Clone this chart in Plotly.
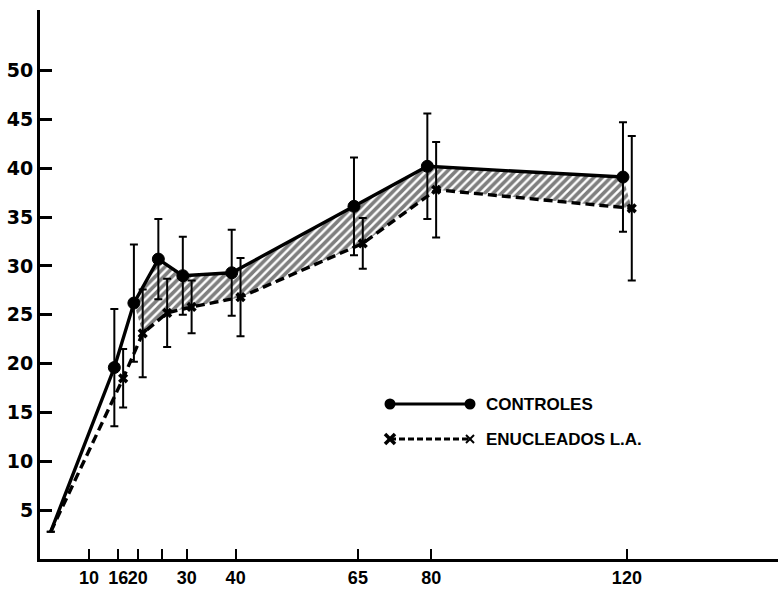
import plotly.graph_objects as go

# ---- data ----
ages = [16, 20, 25, 30, 40, 65, 80, 120]
start_age = 2.2
start_value = 2.8

controles = [19.6, 26.2, 30.7, 29.0, 29.3, 36.1, 40.2, 39.1]
controles_sd = [6.0, 6.0, 4.1, 4.0, 4.4, 5.0, 5.4, 5.6]

enucleados = [18.5, 23.1, 25.2, 25.8, 26.8, 32.3, 37.8, 35.9]
enucleados_sd = [3.0, 4.5, 3.5, 2.7, 4.0, 2.6, 4.9, 7.4]

x_tickvals = [10, 16, 20, 25, 30, 40, 65, 80, 120]
x_ticktext = ["10", "16", "20", "", "30", "40", "65", "80", "120"]
y_tickvals = [5, 10, 15, 20, 25, 30, 35, 40, 45, 50]
y_ticktext = [str(v) for v in y_tickvals]

legend_names = ["CONTROLES", "ENUCLEADOS L.A."]

# ---- style ----
CTRL_DODGE = -0.8   # visual side-by-side offset of the two groups
ENUC_DODGE = 1.0
HATCH_FROM = 1      # hatching starts at age 20

x_ctrl = [start_age] + [a + CTRL_DODGE for a in ages]
y_ctrl = [start_value] + controles
e_ctrl = [0] + controles_sd
x_enuc = [start_age] + [a + ENUC_DODGE for a in ages]
y_enuc = [start_value] + enucleados
e_enuc = [0] + enucleados_sd

fig = go.Figure()

# hatched band between the two curves
fig.add_trace(go.Scatter(
    x=x_enuc[HATCH_FROM + 1:], y=y_enuc[HATCH_FROM + 1:], mode="lines",
    line=dict(width=0, color="black"), showlegend=False, hoverinfo="skip"))
fig.add_trace(go.Scatter(
    x=x_ctrl[HATCH_FROM + 1:], y=y_ctrl[HATCH_FROM + 1:], mode="lines",
    line=dict(width=0, color="black"), fill="tonexty",
    fillcolor="rgba(0,0,0,0)",
    fillpattern=dict(shape="/", size=6, solidity=0.6, fgcolor="black",
                     bgcolor="rgba(255,255,255,0)"),
    showlegend=False, hoverinfo="skip"))

# enucleados (dashed, crosses)
fig.add_trace(go.Scatter(
    x=x_enuc, y=y_enuc, mode="lines+markers", name=legend_names[1],
    line=dict(color="black", width=3.4, dash="9px,5px"),
    marker=dict(symbol="x", size=[0] + [9] * len(ages), color="black",
                opacity=1, line=dict(width=0)),
    error_y=dict(type="data", array=e_enuc, visible=True, color="black",
                 thickness=2, width=4),
    opacity=1, showlegend=False))

# controles (solid, filled circles)
fig.add_trace(go.Scatter(
    x=x_ctrl, y=y_ctrl, mode="lines+markers", name=legend_names[0],
    line=dict(color="black", width=3.4),
    marker=dict(symbol="circle", size=[0] + [12] * len(ages), color="black",
                opacity=1, line=dict(width=1, color="black")),
    error_y=dict(type="data", array=e_ctrl, visible=True, color="black",
                 thickness=2, width=4),
    opacity=1, showlegend=False))

# ---- hand-drawn style legend (paper coordinates) ----
W, H = 778, 590
ML, MR, MT, MB = 40, 0, 10, 31
pw, ph = W - ML - MR, H - MT - MB
def px(p):
    return (p - ML) / pw
def py(q):
    return (H - MB - q) / ph

shapes = []
lx0, lx1, tx = px(390), px(470), px(484)
ly1, ly2 = py(404), py(439)
shapes.append(dict(type="line", xref="paper", yref="paper", x0=lx0, x1=lx1,
                   y0=ly1, y1=ly1, line=dict(color="black", width=3)))
for xx in (lx0, lx1):
    shapes.append(dict(type="circle", xref="paper", yref="paper",
                       xsizemode="pixel", ysizemode="pixel", xanchor=xx, yanchor=ly1,
                       x0=-5.5, x1=5.5, y0=-5.5, y1=5.5,
                       fillcolor="black", line=dict(color="black", width=0)))
shapes.append(dict(type="line", xref="paper", yref="paper", x0=lx0, x1=lx1,
                   y0=ly2, y1=ly2, line=dict(color="black", width=3, dash="6px,3px")))
for xx, s, w in ((lx0, 5, 3.5), (lx1, 4, 2)):
    for sgn in (1, -1):
        shapes.append(dict(type="line", xref="paper", yref="paper",
                           xsizemode="pixel", ysizemode="pixel", xanchor=xx, yanchor=ly2,
                           x0=-s, x1=s, y0=-s * sgn, y1=s * sgn,
                           line=dict(color="black", width=w)))

legend_font = dict(family="Liberation Sans, Arial", size=17,
                   color="black", weight="bold")
annotations = [
    dict(xref="paper", yref="paper", x=tx, y=ly1, text=legend_names[0], showarrow=False,
         xanchor="left", yanchor="middle", font=legend_font),
    dict(xref="paper", yref="paper", x=tx, y=ly2, text=legend_names[1], showarrow=False,
         xanchor="left", yanchor="middle", font=legend_font),
]

fig.update_layout(
    width=W, height=H,
    margin=dict(l=ML, r=MR, t=MT, b=MB, pad=0),
    paper_bgcolor="white", plot_bgcolor="white",
    shapes=shapes, annotations=annotations,
    showlegend=False,
)
fig.update_xaxes(
    range=[0, 150.9], tickmode="array", tickvals=x_tickvals, ticktext=x_ticktext,
    tickangle=0,
    showgrid=False, zeroline=False, showline=True, linecolor="black", linewidth=3,
    ticks="inside", ticklen=10, tickwidth=2, tickcolor="black",
    tickfont=dict(family="Liberation Sans, Arial", size=18,
                  color="black", weight="bold"),
)
fig.update_yaxes(
    range=[0, 56.2], tickmode="array", tickvals=y_tickvals, ticktext=y_ticktext,
    showgrid=False, zeroline=False, showline=True, linecolor="black", linewidth=3,
    ticks="inside", ticklen=12, tickwidth=2.5, tickcolor="black",
    tickfont=dict(family="DejaVu Sans, Arial", size=19, color="black", weight="bold"),
)

fig.write_html("out.html")
